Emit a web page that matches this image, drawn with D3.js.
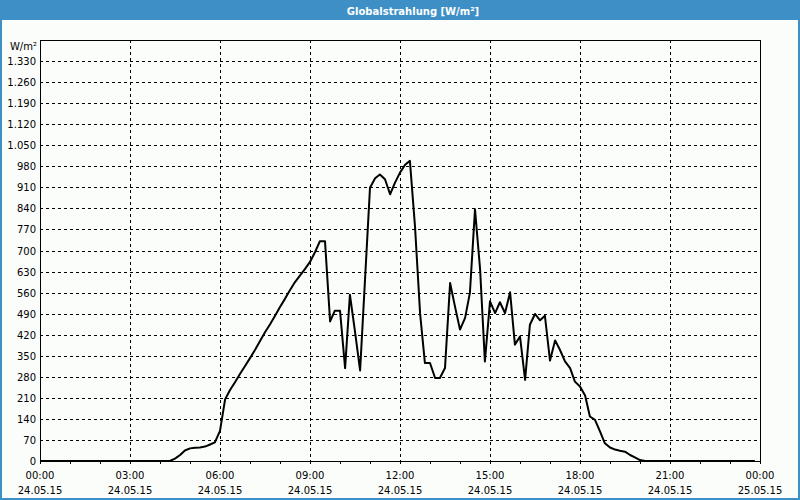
<!DOCTYPE html>
<html>
<head>
<meta charset="utf-8">
<script src="https://cdn.jsdelivr.net/npm/d3@7"></script>
<style>
  body { margin: 0; background: #fff; }
  svg text { font-family: "DejaVu Sans", sans-serif; }
</style>
</head>
<body>
<div id="chart"></div>
<script>

var outerWidth = 800,
    outerHeight = 500,
    margin = {top: 40, right: 40, bottom: 39, left: 40},
    width = outerWidth - margin.left - margin.right,
    height = outerHeight - margin.top - margin.bottom;

// hours since 24.05.15 00:00
var hours = [0, 4.33, 4.5, 4.67, 4.83, 5.0, 5.17, 5.33, 5.5, 5.67, 5.83, 6.0, 6.17, 6.33, 6.5, 6.67, 6.83,
    7.0, 7.17, 7.33, 7.5, 7.67, 7.83, 8.0, 8.17, 8.33, 8.5, 8.67, 8.83, 9.0, 9.17, 9.33, 9.5, 9.67, 9.83,
    10.0, 10.17, 10.33, 10.5, 10.67, 11.0, 11.17, 11.33, 11.5, 11.67, 11.83, 12.0, 12.17, 12.33, 12.5, 12.67,
    12.83, 13.0, 13.17, 13.33, 13.5, 13.67, 13.83, 14.0, 14.17, 14.33, 14.5, 14.67, 14.83, 15.0, 15.17, 15.33,
    15.5, 15.67, 15.83, 16.0, 16.17, 16.33, 16.5, 16.67, 16.83, 17.0, 17.17, 17.33, 17.5, 17.67, 17.83, 18.0,
    18.17, 18.33, 18.5, 18.67, 18.83, 19.0, 19.17, 19.33, 19.5, 19.67, 19.83, 20.0, 20.17, 23.83];

// W/m²
var values = [0, 0, 8, 20, 35, 42, 44, 45, 48, 55, 62, 100, 205, 235, 262, 290, 315,
    342, 370, 398, 428, 455, 482, 512, 540, 568, 595, 617, 638, 662, 695, 731, 731, 464, 500,
    500, 309, 553, 430, 301, 909, 940, 953, 937, 887, 925, 959, 985, 998, 780, 490,
    326, 326, 276, 276, 309, 592, 515, 437, 476, 559, 837, 637, 331, 531, 492, 528,
    492, 561, 387, 414, 270, 453, 489, 468, 483, 334, 401, 370, 331, 309, 264, 248,
    218, 148, 137, 98, 59, 45, 38, 34, 31, 20, 12, 3, 0, 0];

var yTicks = d3.range(0, 1331, 70);
var xTicks = d3.range(0, 25, 3);
var timeLabels = ["00:00", "03:00", "06:00", "09:00", "12:00", "15:00", "18:00", "21:00", "00:00"];
var dateLabels = ["24.05.15", "24.05.15", "24.05.15", "24.05.15", "24.05.15", "24.05.15", "24.05.15", "24.05.15", "25.05.15"];

var x = d3.scaleLinear().domain([0, 24]).range([0, width]);
var y = d3.scaleLinear().domain([0, 1400]).range([height, 0]);

var svg = d3.select("#chart").append("svg")
    .attr("width", outerWidth)
    .attr("height", outerHeight);

// background + frame
svg.append("rect")
    .attr("width", outerWidth).attr("height", outerHeight)
    .attr("fill", "#fbfdfb");
svg.append("rect")
    .attr("x", 1).attr("y", 0)
    .attr("width", outerWidth - 2).attr("height", outerHeight - 1)
    .attr("fill", "none").attr("stroke", "#3d8fc6").attr("stroke-width", 2);
svg.append("rect")
    .attr("width", outerWidth).attr("height", 20)
    .attr("fill", "#3d8fc6");
svg.append("text")
    .attr("x", 413).attr("y", 14.5)
    .attr("text-anchor", "middle")
    .attr("fill", "#fff")
    .style("font-size", "10px")
    .style("font-weight", "bold")
    .text("Globalstrahlung [W/m²]");

var g = svg.append("g")
    .attr("transform", "translate(" + margin.left + "," + margin.top + ")");

// grid
g.selectAll(".hgrid")
    .data(yTicks.filter(function(d) { return d > 0; }))
    .enter().append("line")
    .attr("x1", 0).attr("x2", width)
    .attr("y1", function(d) { return Math.round(y(d)) + 0.5; })
    .attr("y2", function(d) { return Math.round(y(d)) + 0.5; })
    .attr("stroke", "#000").attr("stroke-dasharray", "3,3");

g.selectAll(".vgrid")
    .data(xTicks.filter(function(d) { return d > 0 && d < 24; }))
    .enter().append("line")
    .attr("x1", function(d) { return Math.round(x(d)) + 0.5; })
    .attr("x2", function(d) { return Math.round(x(d)) + 0.5; })
    .attr("y1", 0).attr("y2", height)
    .attr("stroke", "#000").attr("stroke-dasharray", "3,3");

// hourly ticks below the axis
g.selectAll(".tick-h")
    .data(d3.range(0, 25, 1))
    .enter().append("line")
    .attr("x1", function(d) { return Math.round(x(d)) + 0.5; })
    .attr("x2", function(d) { return Math.round(x(d)) + 0.5; })
    .attr("y1", height).attr("y2", height + 3)
    .attr("stroke", "#000");

g.append("rect")
    .attr("x", 0.5).attr("y", 0.5)
    .attr("width", width).attr("height", height)
    .attr("fill", "none").attr("stroke", "#000");

// y labels
g.selectAll(".ylab")
    .data(yTicks)
    .enter().append("text")
    .attr("x", -4)
    .attr("y", function(d) { return y(d) + 4; })
    .attr("text-anchor", "end")
    .style("font-size", "10px")
    .text(function(d) { return d3.format(",")(d).replace(",", "."); });

g.append("text")
    .attr("x", -3).attr("y", 10)
    .attr("text-anchor", "end")
    .style("font-size", "10px")
    .text("W/m²");

// x labels
g.selectAll(".xlab")
    .data(xTicks)
    .enter().append("text")
    .attr("x", function(d) { return x(d); })
    .attr("y", height + 18)
    .attr("text-anchor", "middle")
    .style("font-size", "10px")
    .text(function(d, i) { return timeLabels[i]; });

g.selectAll(".dlab")
    .data(xTicks)
    .enter().append("text")
    .attr("x", function(d) { return x(d); })
    .attr("y", height + 33)
    .attr("text-anchor", "middle")
    .style("font-size", "10px")
    .text(function(d, i) { return dateLabels[i]; });

// series
var line = d3.line()
    .x(function(d, i) { return x(hours[i]); })
    .y(function(d) { return y(d); });

g.append("path")
    .datum(values)
    .attr("d", line)
    .attr("fill", "none")
    .attr("stroke", "#000")
    .attr("stroke-width", 2)
    .attr("stroke-linejoin", "round");

</script>
</body>
</html>
